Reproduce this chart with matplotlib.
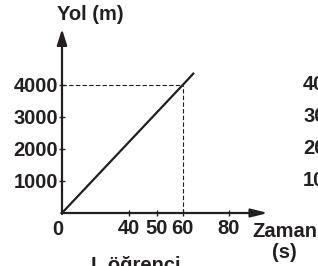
import numpy as np
import matplotlib.pyplot as plt

plt.rcParams['font.family'] = ['Liberation Sans', 'DejaVu Sans']
plt.rcParams['font.weight'] = 'bold'

# veriler
zaman = [0, 60, 64.9]          # s
yol = [0, 4000, 4380]          # m
x_ticks = [40, 50, 60, 80]
y_ticks = [1000, 2000, 3000, 4000]
t_oku, yol_oku = 60, 4000      # kesikli cizgi noktasi

renk = '#231f20'

fig = plt.figure(figsize=(3.18, 2.66), dpi=100)
ax = fig.add_axes([0, 0, 1, 1])

# zaman ekseni cizimde esit aralikli degil; ayni olcegi kullan
t_kir = [-40, 0, 40, 50, 60, 80, 140]
px_kir = [-5, 62, 129, 156.7, 182.7, 229, 367]


def ileri(t):
    return np.interp(t, t_kir, px_kir)


def geri(p):
    return np.interp(p, px_kir, t_kir)


ax.set_xscale('function', functions=(ileri, geri))
ax.set_xlim(geri(0), geri(318))

px_m = 32 / 1000
ax.set_ylim(-(266 - 213) / px_m, 213 / px_m)

for s in ax.spines.values():
    s.set_visible(False)
ax.spines['left'].set_position(('data', 0))
ax.spines['bottom'].set_position(('data', 0))

# eksenler (oklu)
ax.annotate('', xy=(0, (213 - 29) / px_m), xytext=(0, -30),
            arrowprops=dict(arrowstyle='-|>,head_length=0.95,head_width=0.3',
                            lw=1.6, color=renk, shrinkA=0, shrinkB=0))
ax.annotate('', xy=(geri(268), 0), xytext=(geri(61.3), 0),
            arrowprops=dict(arrowstyle='-|>,head_length=1.0,head_width=0.25',
                            lw=1.6, color=renk, shrinkA=0, shrinkB=0))

# grafik cizgisi
ax.plot(zaman, yol, color=renk, lw=1.6, solid_capstyle='butt')

# kesikli cizgiler
ax.plot([0, t_oku], [yol_oku, yol_oku], color=renk, lw=0.8, dashes=(4, 2))
ax.plot([t_oku, t_oku], [0, yol_oku], color=renk, lw=0.8, dashes=(4, 2))

ax.set_xticks(x_ticks)
ax.set_xticklabels([str(v) for v in x_ticks])
ax.set_yticks(y_ticks)
ax.set_yticklabels([str(v) for v in y_ticks])
ax.xaxis.set_minor_locator(plt.NullLocator())
ax.tick_params(axis='x', direction='inout', length=4, width=1, color=renk,
               pad=2.5, labelsize=14.5, labelcolor=renk)
ax.tick_params(axis='y', direction='inout', length=4, width=1, color=renk,
               pad=1, labelsize=14.5, labelcolor=renk)

ax.text(geri(57.5), -7 / px_m, '0', ha='center', va='top', fontsize=14.5,
        color=renk, fontweight='bold')

ax.text(geri(90.5), (213 - 14) / px_m, 'Yol (m)', ha='center',
        va='center', fontsize=14.5, color=renk, fontweight='bold')
ax.text(geri(285), (213 - 237) / px_m, 'Zaman', ha='center',
        va='baseline', fontsize=14.5, color=renk, fontweight='bold')
ax.text(geri(284), (213 - 252.5) / px_m, '(s)', ha='center',
        va='center', fontsize=14.5, color=renk, fontweight='bold')
ax.text(geri(135.5), (213 - 256) / px_m, 'I. öğrenci', ha='center',
        va='top', fontsize=14.5, color=renk, fontweight='bold')

# sagdaki ikinci grafigin kesik etiketleri
for v in y_ticks:
    ax.text(geri(303), v, str(v), ha='left', va='center',
            fontsize=14.5, color=renk, fontweight='bold')

fig.savefig('out.png', dpi=100)
